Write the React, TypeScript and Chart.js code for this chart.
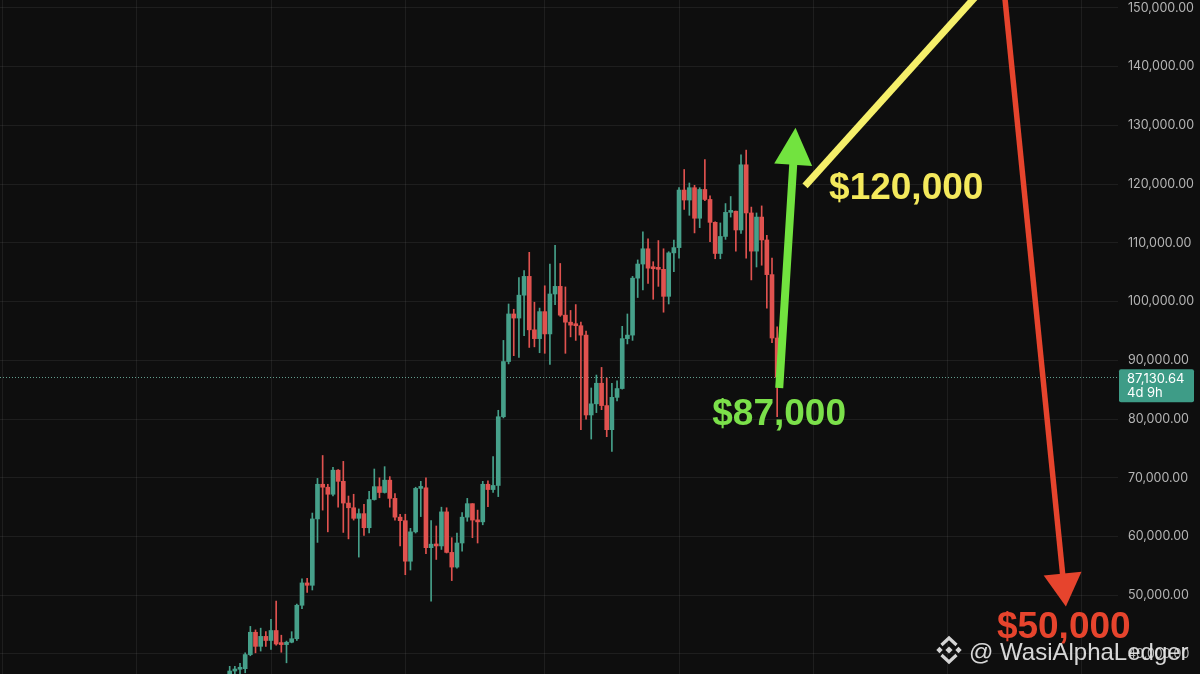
import React, { useEffect, useRef } from 'react';
import { Chart, registerables } from 'chart.js';

Chart.register(...registerables);

// ---------- data ----------
const ORIGIN = '2023-01-02';

const weeks = [
  '2023-11-06', '2023-11-13', '2023-11-20', '2023-11-27', '2023-12-04', '2023-12-11', '2023-12-18', '2023-12-25',
  '2024-01-01', '2024-01-08', '2024-01-15', '2024-01-22', '2024-01-29', '2024-02-05', '2024-02-12', '2024-02-19',
  '2024-02-26', '2024-03-04', '2024-03-11', '2024-03-18', '2024-03-25', '2024-04-01', '2024-04-08', '2024-04-15',
  '2024-04-22', '2024-04-29', '2024-05-06', '2024-05-13', '2024-05-20', '2024-05-27', '2024-06-03', '2024-06-10',
  '2024-06-17', '2024-06-24', '2024-07-01', '2024-07-08', '2024-07-15', '2024-07-22', '2024-07-29', '2024-08-05',
  '2024-08-12', '2024-08-19', '2024-08-26', '2024-09-02', '2024-09-09', '2024-09-16', '2024-09-23', '2024-09-30',
  '2024-10-07', '2024-10-14', '2024-10-21', '2024-10-28', '2024-11-04', '2024-11-11', '2024-11-18', '2024-11-25',
  '2024-12-02', '2024-12-09', '2024-12-16', '2024-12-23', '2024-12-30',
  '2025-01-06', '2025-01-13', '2025-01-20', '2025-01-27', '2025-02-03', '2025-02-10', '2025-02-17', '2025-02-24',
  '2025-03-03', '2025-03-10', '2025-03-17', '2025-03-24', '2025-03-31', '2025-04-07', '2025-04-14', '2025-04-21',
  '2025-04-28', '2025-05-05', '2025-05-12', '2025-05-19', '2025-05-26', '2025-06-02', '2025-06-09', '2025-06-16',
  '2025-06-23', '2025-06-30', '2025-07-07', '2025-07-14', '2025-07-21', '2025-07-28', '2025-08-04', '2025-08-11',
  '2025-08-18', '2025-08-25', '2025-09-01', '2025-09-08', '2025-09-15', '2025-09-22', '2025-09-29', '2025-10-06',
  '2025-10-13', '2025-10-20', '2025-10-27', '2025-11-03', '2025-11-10', '2025-11-17',
];

const opens = [
  35000, 37100, 37400, 37500, 39900, 43700, 41300, 43000,
  42300, 44000, 41700, 41600, 42000, 42600, 48300, 52100,
  51700, 63000, 68900, 68400, 67200, 71300, 69400, 65700,
  64900, 63100, 63900, 61500, 66300, 68500, 67500, 69600,
  66500, 63300, 62700, 55800, 60800, 68200, 68300, 58100,
  58700, 58400, 64200, 57300, 54800, 58900, 63300, 65600,
  62800, 62500, 68900, 68000, 68700, 80400, 89800, 97900,
  97200, 101100, 104300, 95200, 93700,
  98300, 94500, 101300, 102600, 97700, 96500, 96000, 95900,
  94300, 80700, 82600, 86100, 82300, 78200, 83700, 85200,
  93700, 94300, 104000, 106400, 109000, 105700, 105600, 105500,
  100900, 108300, 109200, 119000, 117300, 119400, 114200, 119100,
  117400, 113500, 108200, 111100, 115200, 115400, 112200, 123300,
  115100, 108600, 114400, 110500, 104600, 93800,
];

const highs = [
  37900, 37900, 38400, 40200, 44700, 44100, 44400, 43800,
  45900, 49000, 43200, 42200, 43800, 48500, 52800, 52900,
  64000, 69900, 73800, 68900, 71800, 71400, 72800, 66900,
  67200, 64700, 65500, 67700, 71500, 70000, 71900, 70200,
  67300, 63800, 63800, 61400, 68400, 69400, 70000, 62700,
  61800, 65000, 64900, 59800, 60600, 64100, 66500, 65600,
  64500, 69400, 69500, 73600, 81500, 93400, 99600, 98700,
  104100, 105300, 108400, 99900, 98900,
  102700, 106400, 109600, 106500, 102500, 98500, 99500, 96500,
  95000, 85300, 87500, 88800, 87000, 86100, 86500, 95800,
  97900, 104300, 107100, 111900, 110700, 106800, 110400, 109000,
  108500, 110500, 119400, 122500, 120200, 119800, 119400, 124200,
  118000, 113600, 113400, 116700, 117900, 115400, 125000, 125800,
  116100, 115100, 116300, 111300, 107400, 95700,
];

const lows = [
  34500, 34900, 35600, 36800, 39700, 40200, 40500, 41300,
  40800, 41500, 40300, 38500, 41900, 42300, 47700, 50500,
  50900, 59000, 64500, 60800, 66900, 65000, 60700, 59600,
  62800, 56500, 60200, 60600, 66200, 66600, 67400, 65000,
  62800, 58400, 53500, 54300, 60600, 63400, 57100, 49000,
  56100, 57800, 57200, 52500, 54600, 57500, 62600, 59800,
  58900, 62000, 65100, 67500, 66800, 80200, 89400, 90800,
  90500, 94200, 92200, 92300, 91300,
  91200, 89300, 99500, 97500, 91200, 94000, 93400, 78200,
  80000, 76600, 81100, 81600, 77000, 74500, 83100, 85100,
  92800, 93400, 100700, 102000, 103100, 100400, 102600, 98200,
  99600, 105100, 107400, 115700, 114700, 111700, 112600, 117200,
  110200, 107300, 107300, 110600, 114400, 108600, 111600, 107400,
  103700, 105900, 106200, 98900, 93000, 80400,
];

const closes = [
  37100, 37400, 37500, 39900, 43700, 41300, 43000, 42300,
  44000, 41700, 41600, 42000, 42600, 48300, 52100, 51700,
  63000, 68900, 68400, 67200, 71300, 69400, 65700, 64900,
  63100, 63900, 61500, 66300, 68500, 67500, 69600, 66500,
  63300, 62700, 55800, 60800, 68200, 68300, 58100, 58700,
  58400, 64200, 57300, 54800, 58900, 63300, 65600, 62800,
  62500, 68900, 68000, 68700, 80400, 89800, 97900, 97200,
  101100, 104300, 95200, 93700, 98300,
  94500, 101300, 102600, 97700, 96500, 96000, 95900, 94300,
  80700, 82600, 86100, 82300, 78200, 83700, 85200, 93700,
  94300, 104000, 106400, 109000, 105700, 105600, 105500, 100900,
  108300, 109200, 119000, 117300, 119400, 114200, 119100, 117400,
  113500, 108200, 111100, 115200, 115400, 112200, 123300, 115100,
  108600, 114400, 110500, 104600, 93800, 87130.64,
];

const priceTicks = [40000, 50000, 60000, 70000, 80000, 90000, 100000, 110000, 120000, 130000, 140000, 150000];
const gridDates = ['2023-01-02', '2023-07-03', '2024-01-01', '2024-07-01', '2025-01-06', '2025-07-07', '2026-01-05', '2026-07-06', '2027-01-04'];

const lastPrice = 87130.64;
const countdown = '4d 9h';

// drawn annotations, in (week number, price) units
const greenArrow = { from: { w: 150.4, p: 85300 }, to: { w: 153.55, p: 129600 }, label: '$87,000' };
const yellowPath = { from: { w: 155.4, p: 119700 }, to: { w: 193.5, p: 156900 }, label: '$120,000' };
const redArrow = { from: { w: 193.5, p: 156900 }, to: { w: 205.9, p: 48100 }, label: '$50,000' };
const watermark = '@ WasiAlphaLedger';

// ---------- styles ----------
const BG = '#0e0e0e';
const GRID = 'rgba(255,255,255,0.065)';
const UP = '#46a08a';
const DOWN = '#e0524f';
const AXIS_TEXT = '#b4b4b4';
const TAG = '#3e9c87';
const GREEN = '#72e33f';
const YELLOW = '#f5ef6a';
const RED = '#e6442d';

function wk(date: string) {
  return (Date.parse(date) - Date.parse(ORIGIN)) / (7 * 86400000);
}

function fmt(v: number) {
  return v.toLocaleString('en-US', { minimumFractionDigits: 2, maximumFractionDigits: 2 });
}

export default function App() {
  const ref = useRef<HTMLCanvasElement>(null);

  useEffect(() => {
    const xs = weeks.map(wk);
    const colors = closes.map((c, i) => (c >= opens[i] ? UP : DOWN));
    const bodies = xs.map((x, i) => ({ x, y: [opens[i], closes[i]] }));
    const wicks = xs.map((x, i) => ({ x, y: [lows[i], highs[i]] }));

    const px = (chart: any, pt: { w: number; p: number }) => ({
      x: chart.scales.x.getPixelForValue(pt.w),
      y: chart.scales.y.getPixelForValue(pt.p),
    });

    const drawArrow = (ctx: CanvasRenderingContext2D, a: any, b: any, width: number, headLen: number, headHalf: number, color: string) => {
      const dx = b.x - a.x, dy = b.y - a.y;
      const len = Math.hypot(dx, dy);
      const ux = dx / len, uy = dy / len;
      const bx = b.x - ux * headLen, by = b.y - uy * headLen;
      ctx.save();
      ctx.strokeStyle = color;
      ctx.fillStyle = color;
      ctx.lineWidth = width;
      ctx.lineCap = 'butt';
      ctx.beginPath();
      ctx.moveTo(a.x, a.y);
      ctx.lineTo(bx + ux * 2, by + uy * 2);
      ctx.stroke();
      const nx = -uy, ny = ux;
      ctx.beginPath();
      ctx.moveTo(b.x, b.y);
      ctx.lineTo(bx + nx * headHalf, by + ny * headHalf);
      ctx.lineTo(bx - nx * headHalf, by - ny * headHalf);
      ctx.closePath();
      ctx.fill();
      ctx.restore();
    };

    const overlay = {
      id: 'overlay',
      beforeDatasetsDraw(chart: any) {
        const ctx = chart.ctx as CanvasRenderingContext2D;
        const y = Math.round(chart.scales.y.getPixelForValue(lastPrice)) + 0.5;
        ctx.save();
        ctx.strokeStyle = 'rgba(120,195,175,0.8)';
        ctx.lineWidth = 1;
        ctx.setLineDash([1, 2]);
        ctx.beginPath();
        ctx.moveTo(chart.chartArea.left, y);
        ctx.lineTo(chart.chartArea.right, y);
        ctx.stroke();
        ctx.restore();
      },
      afterDraw(chart: any) {
        const ctx = chart.ctx as CanvasRenderingContext2D;
        const area = chart.chartArea;

        // price tag
        const ty = chart.scales.y.getPixelForValue(lastPrice);
        ctx.save();
        ctx.fillStyle = TAG;
        ctx.beginPath();
        (ctx as any).roundRect(area.right + 1, ty - 8, 75, 33, 2);
        ctx.fill();
        ctx.fillStyle = '#ffffff';
        ctx.font = '13px Inter';
        ctx.textBaseline = 'alphabetic';
        ctx.textAlign = 'left';
        ctx.fillText(fmt(lastPrice), area.right + 9, ty + 6);
        ctx.fillText(countdown, area.right + 9, ty + 20);
        ctx.restore();

        // arrows
        const gA = px(chart, greenArrow.from), gB = px(chart, greenArrow.to);
        const yA = px(chart, yellowPath.from), yB = px(chart, yellowPath.to);
        const rA = px(chart, redArrow.from), rB = px(chart, redArrow.to);

        ctx.save();
        ctx.strokeStyle = YELLOW;
        ctx.lineWidth = 7;
        ctx.lineCap = 'butt';
        ctx.beginPath();
        ctx.moveTo(yA.x, yA.y);
        ctx.lineTo(yB.x, yB.y);
        ctx.stroke();
        ctx.restore();

        drawArrow(ctx, rA, rB, 5.5, 33, 19, RED);
        drawArrow(ctx, gA, gB, 8, 37, 19, GREEN);

        // labels
        ctx.save();
        ctx.font = 'bold 37px "Liberation Sans", Arial, sans-serif';
        ctx.textBaseline = 'alphabetic';
        ctx.textAlign = 'left';
        ctx.fillStyle = '#7be04a';
        ctx.fillText(greenArrow.label, gA.x - 67, gA.y + 37);
        ctx.fillStyle = '#f4e95c';
        ctx.fillText(yellowPath.label, yA.x + 24, yA.y + 13);
        ctx.fillStyle = RED;
        ctx.fillText(redArrow.label, rB.x - 69, rB.y + 32);
        ctx.restore();

        // watermark
        ctx.save();
        const cx = 949, cy = 650;
        ctx.fillStyle = '#d4d4d4';
        ctx.strokeStyle = '#d4d4d4';
        const diamond = (x: number, y: number, r: number) => {
          ctx.beginPath();
          ctx.moveTo(x, y - r);
          ctx.lineTo(x + r, y);
          ctx.lineTo(x, y + r);
          ctx.lineTo(x - r, y);
          ctx.closePath();
          ctx.fill();
        };
        diamond(cx, cy, 3.6);
        diamond(cx - 9.5, cy, 3.2);
        diamond(cx + 9.5, cy, 3.2);
        ctx.lineWidth = 3.2;
        ctx.lineJoin = 'miter';
        ctx.beginPath();
        ctx.moveTo(cx - 7.5, cy - 5);
        ctx.lineTo(cx, cy - 12);
        ctx.lineTo(cx + 7.5, cy - 5);
        ctx.stroke();
        ctx.beginPath();
        ctx.moveTo(cx - 7.5, cy + 5);
        ctx.lineTo(cx, cy + 12);
        ctx.lineTo(cx + 7.5, cy + 5);
        ctx.stroke();
        ctx.fillStyle = 'rgba(232,232,232,0.92)';
        ctx.font = '24px "Liberation Sans", Arial, sans-serif';
        ctx.textBaseline = 'alphabetic';
        ctx.fillText(watermark, 969, 660);
        ctx.restore();
      },
    };

    const chart = new Chart(ref.current as HTMLCanvasElement, {
      type: 'bar',
      data: {
        datasets: [
          {
            label: 'wick',
            data: wicks as any,
            backgroundColor: colors,
            borderWidth: 0,
            barThickness: 1,
            grouped: false,
            order: 2,
          } as any,
          {
            label: 'body',
            data: bodies as any,
            backgroundColor: colors,
            borderWidth: 0,
            barThickness: 4,
            minBarLength: 2,
            grouped: false,
            order: 1,
          } as any,
        ],
      },
      options: {
        animation: false,
        responsive: false,
        events: [],
        layout: { padding: 0 },
        plugins: { legend: { display: false }, tooltip: { enabled: false } },
        scales: {
          x: {
            type: 'linear',
            min: -0.47,
            max: 215.99,
            offset: false,
            position: 'bottom',
            ticks: { display: false },
            grid: { color: GRID, drawTicks: false, offset: false, lineWidth: 1 },
            border: { display: false },
            afterBuildTicks: (s: any) => {
              s.ticks = gridDates.map((d) => ({ value: wk(d) }));
            },
            afterFit: (s: any) => {
              s.height = 0;
              s.paddingLeft = 0;
              s.paddingRight = 0;
            },
          },
          y: {
            type: 'linear',
            position: 'right',
            min: 36594,
            max: 151362,
            ticks: {
              color: AXIS_TEXT,
              font: { family: 'Inter', size: 12.5 },
              padding: 10,
              callback: (v: any) => fmt(Number(v)),
            },
            grid: { color: GRID, drawTicks: false },
            border: { display: false },
            afterBuildTicks: (s: any) => {
              s.ticks = priceTicks.map((v) => ({ value: v }));
            },
            afterFit: (s: any) => {
              s.width = 82;
              s.paddingTop = 0;
              s.paddingBottom = 0;
            },
          },
        },
      } as any,
      plugins: [overlay],
    });

    return () => chart.destroy();
  }, []);

  return (
    <div style={{ position: 'fixed', left: 0, top: 0, width: 1200, height: 674, background: BG, overflow: 'hidden' }}>
      <canvas ref={ref} width={1200} height={674} style={{ display: 'block' }} />
    </div>
  );
}
